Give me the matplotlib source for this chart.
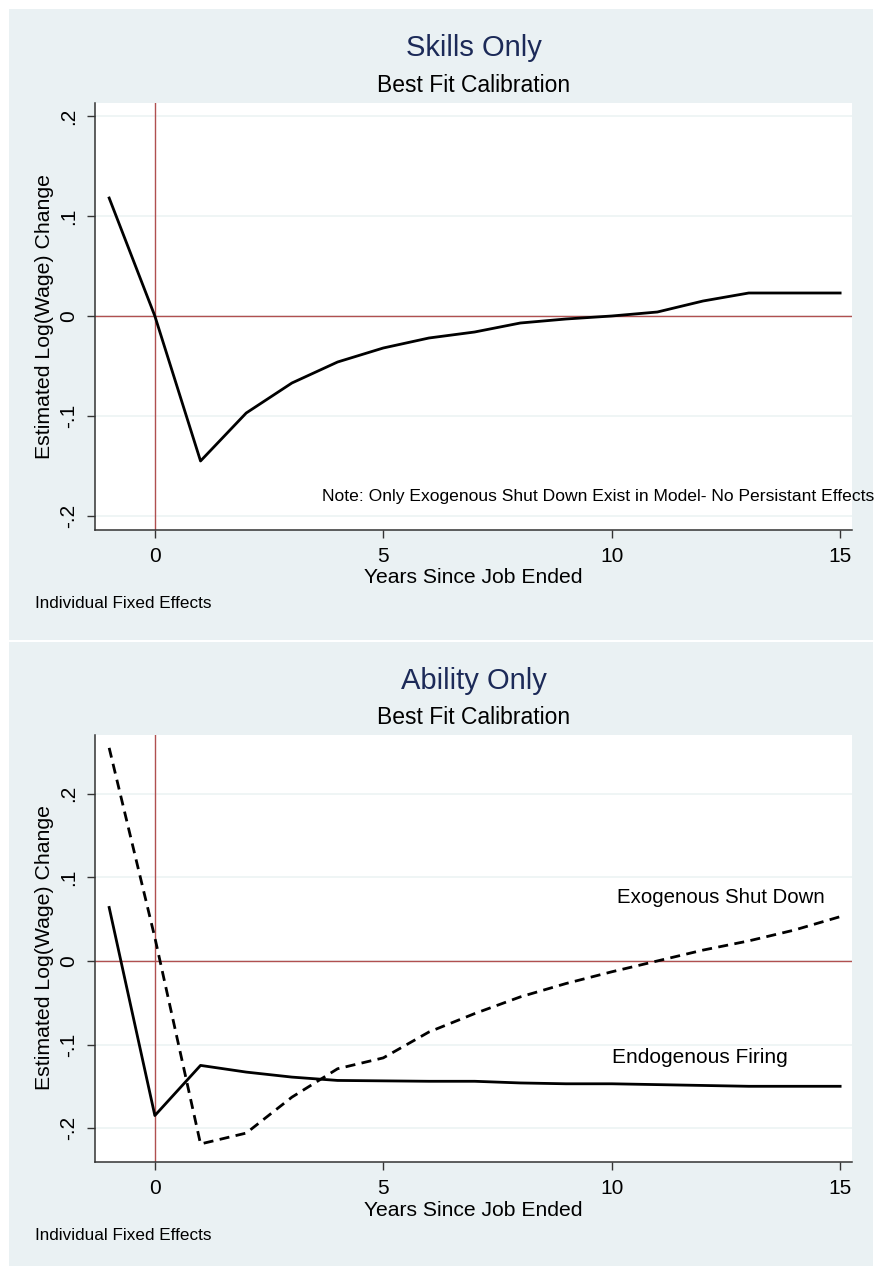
import matplotlib
matplotlib.use("Agg")
import matplotlib.pyplot as plt
from matplotlib.patches import Rectangle
from matplotlib.ticker import FuncFormatter

plt.rcParams['font.family'] = ['Liberation Sans', 'DejaVu Sans']

# ---- data ----
years = [-1, 0, 1, 2, 3, 4, 5, 6, 7, 8, 9, 10, 11, 12, 13, 14, 15]
skills_only = [0.118, 0.0, -0.145, -0.097, -0.067, -0.046, -0.032, -0.022, -0.016,
               -0.007, -0.003, 0.0, 0.004, 0.015, 0.023, 0.023, 0.023]
ability_endog = [0.064, -0.185, -0.125, -0.133, -0.139, -0.143, -0.1435, -0.144, -0.144,
                 -0.146, -0.147, -0.147, -0.148, -0.149, -0.150, -0.150, -0.150]
ability_exog = [0.255, 0.028, -0.219, -0.206, -0.163, -0.129, -0.116, -0.085, -0.063,
                -0.043, -0.027, -0.013, 0.0, 0.013, 0.024, 0.037, 0.053]
xticks = [0, 5, 10, 15]
yticks = [-0.2, -0.1, 0.0, 0.1, 0.2]

titles = ["Skills Only", "Ability Only"]
subtitle = "Best Fit Calibration"
xlabel = "Years Since Job Ended"
ylabel = "Estimated Log(Wage) Change"
footnote = "Individual Fixed Effects"
note_text = "Note: Only Exogenous Shut Down Exist in Model- No Persistant Effects"
label_exog = "Exogenous Shut Down"
label_endog = "Endogenous Firing"

# ---- figure ----
W, H = 881, 1268
fig = plt.figure(figsize=(W / 100, H / 100), dpi=100)
fig.patch.set_facecolor('white')

PANEL = '#eaf1f3'
GRID = '#eef4f5'
REF = '#b05050'
TITLE_C = '#1c2a58'


def fx(px):
    return px / W


def fy(py):
    return 1 - py / H


# panel backgrounds
fig.add_artist(Rectangle((fx(9), fy(640)), fx(873) - fx(9), fy(9) - fy(640),
                         transform=fig.transFigure, facecolor=PANEL, edgecolor='none', zorder=0))
fig.add_artist(Rectangle((fx(9), fy(1266)), fx(873) - fx(9), fy(642) - fy(1266),
                         transform=fig.transFigure, facecolor=PANEL, edgecolor='none', zorder=0))


def fmt(v, pos):
    if abs(v) < 1e-9:
        return "0"
    s = "%g" % v
    return s.replace("0.", ".")


def setup(ax, ylim):
    ax.set_facecolor('white')
    ax.set_xlim(-1.31, 15.26)
    ax.set_ylim(*ylim)
    ax.set_xticks(xticks)
    ax.set_yticks(yticks)
    ax.yaxis.set_major_formatter(FuncFormatter(fmt))
    for s in ['top', 'right']:
        ax.spines[s].set_visible(False)
    for s in ['left', 'bottom']:
        ax.spines[s].set_color('#333333')
        ax.spines[s].set_linewidth(1.1)
    ax.tick_params(axis='both', direction='out', length=6, width=1.0, color='#333333',
                   labelsize=15, pad=6)
    plt.setp(ax.get_yticklabels(), rotation=90, va='center')
    ax.grid(axis='y', color=GRID, linewidth=1.3)
    ax.grid(axis='x', visible=False)
    ax.set_axisbelow(True)
    ax.axhline(0, color=REF, linewidth=1.0, zorder=1.5)
    ax.axvline(0, color=REF, linewidth=1.0, zorder=1.5)


# axes geometry (pixels)
L, R = 95, 852
ax1 = fig.add_axes([fx(L), fy(530), fx(R) - fx(L), fy(103) - fy(530)])
ax2 = fig.add_axes([fx(L), fy(1162), fx(R) - fx(L), fy(735) - fy(1162)])

setup(ax1, (-0.214, 0.213))
setup(ax2, (-0.2406, 0.2704))

ax1.plot(years, skills_only, color='black', linewidth=2.0, zorder=3)
ax1.text(3.66, -0.18, note_text, fontsize=12.6, ha='left', va='center', color='black')

ax2.plot(years, ability_endog, color='black', linewidth=2.0, zorder=3)
ax2.plot(years, ability_exog, color='black', linewidth=2.0, linestyle=(0, (3.6, 2.3)), zorder=3)
ax2.text(10.12, 0.0758, label_exog, fontsize=14.7, ha='left', va='center')
ax2.text(10.0, -0.115, label_endog, fontsize=15, ha='left', va='center')

for ax, title, ty, sy, xly, fny in [(ax1, titles[0], 48, 85, 577, 604),
                                    (ax2, titles[1], 681, 717, 1210, 1236)]:
    cx = fx((L + R) / 2)
    fig.text(cx, fy(ty), title, fontsize=21, ha='center', va='center', color=TITLE_C)
    fig.text(cx, fy(sy), subtitle, fontsize=16.5, ha='center', va='center', color='black')
    fig.text(cx, fy(xly), xlabel, fontsize=15.2, ha='center', va='center')
    fig.text(fx(35), fy(fny), footnote, fontsize=12.3, ha='left', va='center')

fig.text(fx(45), fy(316.5), ylabel, fontsize=15.3, rotation=90, ha='center', va='center')
fig.text(fx(45), fy(948), ylabel, fontsize=15.3, rotation=90, ha='center', va='center')

fig.savefig('out.png', dpi=100, facecolor='white')
